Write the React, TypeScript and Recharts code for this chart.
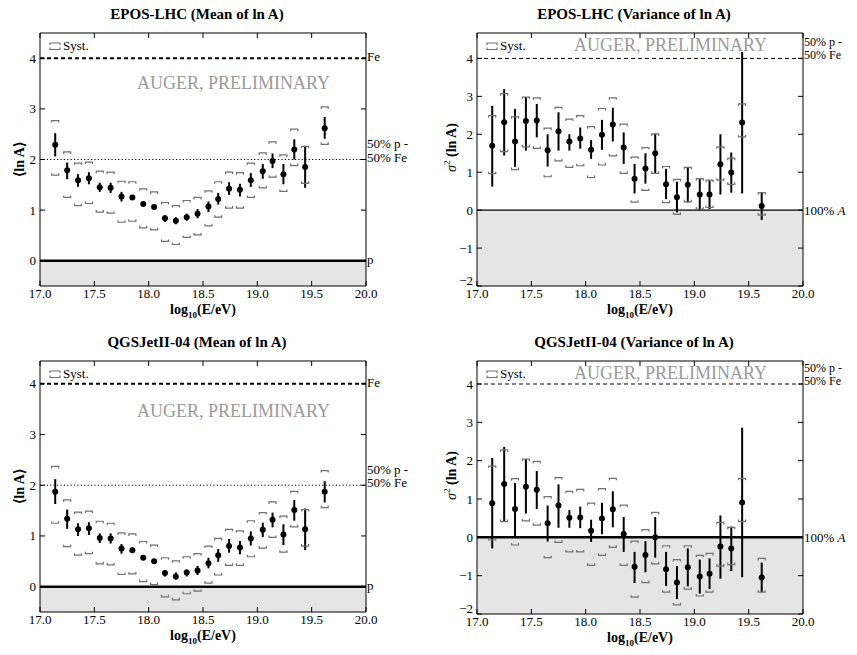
import React from 'react';
import { ComposedChart, XAxis, YAxis, Scatter, ErrorBar, ReferenceLine, ReferenceArea } from 'recharts';

const FONT = "'Liberation Serif', serif";

// log10(E/eV) of each energy bin
const energy = [17.14, 17.25, 17.35, 17.45, 17.55, 17.65, 17.75, 17.85, 17.95, 18.05, 18.15, 18.25, 18.35, 18.45, 18.55, 18.64, 18.74, 18.84, 18.94, 19.05, 19.14, 19.24, 19.34, 19.44, 19.62];

const xTicks = [17.0, 17.5, 18.0, 18.5, 19.0, 19.5, 20.0];
const meanTicks = [0, 1, 2, 3, 4];
const varTicks = [-2, -1, 0, 1, 2, 3, 4];

// EPOS-LHC mean of ln A
const eposMeanVal = [2.29, 1.79, 1.59, 1.63, 1.45, 1.44, 1.27, 1.25, 1.12, 1.06, 0.84, 0.79, 0.86, 0.93, 1.07, 1.22, 1.42, 1.40, 1.59, 1.77, 1.97, 1.71, 2.20, 1.85, 2.62];
const eposMeanStatHi = [2.52, 1.94, 1.71, 1.75, 1.54, 1.54, 1.36, 1.30, 1.16, 1.10, 0.90, 0.86, 0.93, 1.02, 1.17, 1.34, 1.55, 1.52, 1.73, 1.91, 2.12, 1.91, 2.40, 2.27, 2.84];
const eposMeanStatLo = [2.06, 1.61, 1.46, 1.51, 1.36, 1.34, 1.17, 1.20, 1.08, 1.02, 0.77, 0.72, 0.79, 0.84, 0.96, 1.11, 1.30, 1.27, 1.46, 1.62, 1.83, 1.51, 2.00, 1.44, 2.41];
const eposMeanSysHi = [2.77, 2.15, 1.93, 1.95, 1.77, 1.75, 1.57, 1.56, 1.42, 1.36, 1.15, 1.09, 1.19, 1.25, 1.38, 1.56, 1.75, 1.74, 1.93, 2.13, 2.35, 2.09, 2.60, 2.26, 3.04];
const eposMeanSysLo = [1.69, 1.25, 1.09, 1.13, 0.96, 0.94, 0.76, 0.78, 0.65, 0.61, 0.38, 0.32, 0.46, 0.51, 0.69, 0.86, 1.04, 1.04, 1.25, 1.44, 1.65, 1.37, 1.88, 1.53, 2.30];

// EPOS-LHC variance of ln A
const eposVarVal = [1.70, 2.32, 1.81, 2.35, 2.36, 1.58, 2.08, 1.81, 1.89, 1.59, 1.99, 2.26, 1.65, 0.83, 1.10, 1.50, 0.68, 0.34, 0.67, 0.41, 0.41, 1.21, 0.99, 2.31, 0.11];
const eposVarStatHi = [2.75, 3.19, 2.67, 2.98, 2.80, 2.00, 2.58, 2.00, 2.18, 1.85, 2.38, 2.70, 2.05, 1.22, 1.50, 2.01, 1.09, 0.75, 1.13, 0.82, 0.78, 2.00, 1.52, 4.17, 0.46];
const eposVarStatLo = [0.62, 1.44, 1.14, 1.57, 1.92, 1.15, 1.57, 1.57, 1.62, 1.35, 1.59, 1.81, 1.22, 0.44, 0.70, 0.97, 0.29, -0.06, 0.20, 0.00, 0.03, 0.41, 0.46, 0.44, -0.26];
const eposVarSysHi = [2.49, 3.07, 2.46, 2.98, 2.96, 2.16, 2.71, 2.40, 2.49, 2.20, 2.68, 2.96, 2.27, 1.40, 1.65, 2.01, 1.15, 0.81, 1.13, 0.83, 0.79, 1.67, 1.37, 2.80, 0.46];
const eposVarSysLo = [0.96, 1.54, 1.07, 1.67, 1.63, 0.88, 1.30, 1.13, 1.17, 0.86, 1.19, 1.43, 0.97, 0.21, 0.52, 0.97, 0.20, -0.11, 0.22, 0.03, 0.07, 0.79, 0.68, 1.93, -0.13];

// QGSJetII-04 mean of ln A
const qgsMeanVal = [1.87, 1.34, 1.13, 1.15, 0.96, 0.95, 0.75, 0.72, 0.57, 0.50, 0.27, 0.20, 0.28, 0.32, 0.46, 0.62, 0.80, 0.77, 0.95, 1.12, 1.32, 1.03, 1.51, 1.13, 1.87];
const qgsMeanStatHi = [2.12, 1.52, 1.25, 1.27, 1.05, 1.05, 0.84, 0.77, 0.61, 0.54, 0.33, 0.28, 0.34, 0.41, 0.57, 0.74, 0.94, 0.90, 1.09, 1.26, 1.46, 1.23, 1.71, 1.54, 2.08];
const qgsMeanStatLo = [1.63, 1.14, 1.00, 1.02, 0.86, 0.85, 0.65, 0.67, 0.53, 0.46, 0.20, 0.14, 0.20, 0.23, 0.36, 0.49, 0.67, 0.64, 0.81, 0.98, 1.17, 0.82, 1.30, 0.72, 1.66];
const qgsMeanSysHi = [2.37, 1.71, 1.47, 1.49, 1.29, 1.25, 1.06, 1.04, 0.89, 0.82, 0.57, 0.51, 0.59, 0.65, 0.80, 0.95, 1.13, 1.10, 1.30, 1.46, 1.67, 1.39, 1.88, 1.52, 2.29];
const qgsMeanSysLo = [1.25, 0.79, 0.62, 0.65, 0.45, 0.43, 0.24, 0.25, 0.10, 0.04, -0.20, -0.26, -0.14, -0.09, 0.07, 0.23, 0.42, 0.42, 0.59, 0.76, 0.97, 0.68, 1.18, 0.80, 1.56];

// QGSJetII-04 variance of ln A
const qgsVarVal = [0.89, 1.39, 0.74, 1.32, 1.24, 0.37, 0.83, 0.51, 0.52, 0.17, 0.49, 0.73, 0.09, -0.77, -0.46, 0.00, -0.83, -1.18, -0.78, -1.02, -0.95, -0.24, -0.29, 0.91, -1.05];
const qgsVarStatHi = [2.07, 2.36, 1.42, 2.04, 1.73, 0.83, 1.38, 0.71, 0.80, 0.46, 0.90, 1.20, 0.53, -0.38, -0.10, 0.53, -0.38, -0.75, -0.29, -0.58, -0.55, 0.57, 0.28, 2.86, -0.66];
const qgsVarStatLo = [-0.29, 0.41, 0.00, 0.62, 0.74, -0.11, 0.25, 0.25, 0.24, -0.12, 0.08, 0.26, -0.38, -1.19, -0.91, -0.53, -1.27, -1.61, -1.28, -1.47, -1.35, -1.08, -0.88, -1.04, -1.43];
const qgsVarSysHi = [1.86, 2.28, 1.53, 2.04, 1.98, 1.06, 1.56, 1.20, 1.25, 0.89, 1.27, 1.54, 0.84, -0.10, 0.20, 0.65, -0.22, -0.58, -0.22, -0.47, -0.42, 0.39, 0.26, 1.54, -0.55];
const qgsVarSysLo = [-0.07, 0.41, -0.20, 0.43, 0.32, -0.53, -0.13, -0.38, -0.38, -0.73, -0.47, -0.26, -0.73, -1.56, -1.18, -0.69, -1.43, -1.76, -1.35, -1.53, -1.43, -0.75, -0.71, 0.41, -1.43];

const buildRows = (val: number[], hi: number[], lo: number[], sh: number[], sl: number[]) =>
  energy.map((x, i) => ({
    x,
    y: val[i],
    err: [val[i] - lo[i], hi[i] - val[i]],
    sh: sh[i],
    sl: sl[i],
  }));

const SYS_COLOR = '#707070';

const TopBracket = (p: any) => {
  const { cx, cy } = p;
  if (cx == null || cy == null) return null;
  return <path d={`M${cx - 3.5},${cy + 2} L${cx - 3.5},${cy} L${cx + 3.5},${cy} L${cx + 3.5},${cy + 2}`} fill="none" stroke={SYS_COLOR} strokeWidth={1.2} />;
};
const BottomBracket = (p: any) => {
  const { cx, cy } = p;
  if (cx == null || cy == null) return null;
  return <path d={`M${cx - 3.5},${cy - 2} L${cx - 3.5},${cy} L${cx + 3.5},${cy} L${cx + 3.5},${cy - 2}`} fill="none" stroke={SYS_COLOR} strokeWidth={1.2} />;
};
const Dot = (p: any) => {
  const { cx, cy } = p;
  if (cx == null || cy == null) return null;
  return <circle cx={cx} cy={cy} r={3} fill="#000" />;
};

const XTick = (props: any) => {
  const { x, y, payload, plotTop } = props;
  return (
    <g>
      <line x1={x} y1={y} x2={x} y2={y - 5} stroke="#000" strokeWidth={1} />
      <line x1={x} y1={plotTop} x2={x} y2={plotTop + 5} stroke="#000" strokeWidth={1} />
      <text x={x} y={y + 12} textAnchor="middle" fontSize={13} fontFamily={FONT} fill="#000">
        {Number(payload.value).toFixed(1)}
      </text>
    </g>
  );
};

const YTick = (props: any) => {
  const { x, y, payload, plotRight, minTick } = props;
  const v = Number(payload.value);
  const s = v < 0 ? '\u2212' + Math.abs(v) : String(v);
  const lift = v === minTick ? -6 : 0;
  return (
    <g>
      <line x1={x} y1={y} x2={x + 5} y2={y} stroke="#000" strokeWidth={1} />
      <line x1={plotRight} y1={y} x2={plotRight - 5} y2={y} stroke="#000" strokeWidth={1} />
      <text x={x - 4} y={y + 4.5 + lift} textAnchor="end" fontSize={13} fontFamily={FONT} fill="#000">
        {s}
      </text>
    </g>
  );
};

type PanelProps = {
  left: number;
  top: number;
  width: number;
  height: number;
  plot: { l: number; t: number; r: number; b: number };
  kind: 'mean' | 'var';
  title: string;
  domain: [number, number];
  rows: ReturnType<typeof buildRows>;
  zeroWidth: number;
};

const XAXIS_H = 30;

function Panel({ left, top, width, height, plot, kind, title, domain, rows, zeroWidth }: PanelProps) {
  const yAxisW = 40;
  const margin = { top: plot.t, left: plot.l - yAxisW, right: width - plot.r, bottom: height - plot.b - XAXIS_H };
  const ticks = kind === 'mean' ? meanTicks : varTicks;

  const decor = (lp: any) => {
    const vb = lp.viewBox || {};
    const x0 = vb.x, y0 = vb.y, w = vb.width, h = vb.height;
    const cx = x0 + w / 2;
    return (
      <g fontFamily={FONT}>
        <text x={cx - 6} y={y0 - 14.5} textAnchor="middle" fontSize={15} fontWeight="bold" fill="#000" fontFamily={FONT}>{title}</text>
        <text x={cx} y={y0 + h + 28} textAnchor="middle" fontSize={14} fontWeight="bold" fill="#000" fontFamily={FONT}>
          log<tspan fontSize={9} dy={4}>10</tspan><tspan dy={-4}>(E/eV)</tspan>
        </text>
        {kind === 'mean' ? (
          <text transform={`translate(${x0 - 16},${y0 + h / 2}) rotate(-90)`} textAnchor="middle" fontSize={14} fontWeight="bold" fill="#000" fontFamily={FONT}>
            {'\u27E8ln A\u27E9'}
          </text>
        ) : (
          <text transform={`translate(${x0 - 21},${y0 + h / 2 - 12}) rotate(-90)`} textAnchor="middle" fontSize={14} fill="#000" fontFamily={FONT}>
            <tspan fontStyle="italic">{'\u03C3'}</tspan>
            <tspan fontSize={9} dy={-6}>2</tspan>
            <tspan dy={6} fontWeight="bold">{' (ln A)'}</tspan>
          </text>
        )}
        <g stroke={SYS_COLOR} strokeWidth={1.2} fill="none">
          <path d={`M${x0 + 10},${y0 + 12} L${x0 + 10},${y0 + 10} L${x0 + 20},${y0 + 10} L${x0 + 20},${y0 + 12}`} />
          <path d={`M${x0 + 10},${y0 + 14.5} L${x0 + 10},${y0 + 16.5} L${x0 + 20},${y0 + 16.5} L${x0 + 20},${y0 + 14.5}`} />
        </g>
        <text x={x0 + 23} y={y0 + 17} fontSize={13} fill="#000" fontFamily={FONT}>Syst.</text>
        <text x={x0 + 97} y={y0 + (kind === 'mean' ? 55.5 : 18)} fontSize={18} fill="#9a9a9a" fontFamily={FONT}>AUGER, PRELIMINARY</text>
      </g>
    );
  };

  const rightText = (lines: { t: React.ReactNode; dy: number }[], size = 13) => (lp: any) => {
    const vb = lp.viewBox || {};
    const xr = vb.x + vb.width + 1;
    return (
      <g>
        {lines.map((ln, i) => (
          <text key={i} x={xr} y={vb.y + ln.dy} fill="#000" fontSize={size} fontFamily={FONT}>{ln.t}</text>
        ))}
      </g>
    );
  };

  return (
    <div style={{ position: 'absolute', left, top, width, height }}>
      <ComposedChart width={width} height={height} margin={margin}>
        <XAxis
          dataKey="x"
          type="number"
          domain={[17, 20]}
          ticks={xTicks}
          interval={0}
          allowDataOverflow
          height={XAXIS_H}
          axisLine={false}
          tickLine={false}
          tickSize={0}
          tickMargin={0}
          tick={<XTick plotTop={plot.t} />}
        />
        <YAxis
          type="number"
          domain={domain}
          ticks={ticks}
          interval={0}
          allowDataOverflow
          width={yAxisW}
          axisLine={false}
          tickLine={false}
          tickSize={0}
          tickMargin={0}
          tick={<YTick plotRight={plot.r} minTick={kind === 'var' ? -2 : -99} />}
        />
        <ReferenceArea x1={17} x2={20} y1={domain[0]} y2={0} fill="#e5e5e5" fillOpacity={1} stroke="none" />
        {kind === 'mean' ? (
          <>
            <ReferenceLine y={4} stroke="#000" strokeWidth={2} strokeDasharray="4 3" label={rightText([{ t: 'Fe', dy: 3 }])} />
            <ReferenceLine y={2} stroke="#000" strokeWidth={1} strokeDasharray="1.2 2.2" label={rightText([{ t: '50% p -', dy: -11.5 }, { t: '50% Fe', dy: 2 }])} />
            <ReferenceLine y={0} stroke="#000" strokeWidth={zeroWidth} label={rightText([{ t: 'p', dy: 3 }])} />
          </>
        ) : (
          <>
            <ReferenceLine y={4} stroke="#000" strokeWidth={1} strokeDasharray="4 3" label={rightText([{ t: '50% p -', dy: -12 }, { t: '50% Fe', dy: 0.5 }], 12)} />
            <ReferenceLine y={0} stroke="#000" strokeWidth={zeroWidth} label={rightText([{ t: <>100% <tspan fontStyle="italic">A</tspan></>, dy: 4.5 }])} />
          </>
        )}
        <Scatter data={rows} dataKey="sh" shape={TopBracket} isAnimationActive={false} />
        <Scatter data={rows} dataKey="sl" shape={BottomBracket} isAnimationActive={false} />
        <Scatter data={rows} dataKey="y" shape={Dot} isAnimationActive={false}>
          <ErrorBar dataKey="err" direction="y" width={0} stroke="#000" strokeWidth={2} isAnimationActive={false} />
        </Scatter>
        <ReferenceArea x1={17} x2={20} y1={domain[0]} y2={domain[1]} fill="none" fillOpacity={0} stroke="#000" strokeWidth={1} label={decor} />
      </ComposedChart>
    </div>
  );
}

export default function App() {
  return (
    <div style={{ position: 'absolute', left: 0, top: 0, width: 857, height: 655, background: '#fff', fontFamily: FONT }}>
      <Panel
        left={0} top={0} width={428} height={325}
        plot={{ l: 40, t: 33, r: 366, b: 286 }}
        kind="mean" title="EPOS-LHC (Mean of ln  A)" domain={[-0.5, 4.5]}
        rows={buildRows(eposMeanVal, eposMeanStatHi, eposMeanStatLo, eposMeanSysHi, eposMeanSysLo)}
        zeroWidth={2.5}
      />
      <Panel
        left={428} top={0} width={429} height={325}
        plot={{ l: 49, t: 33, r: 375, b: 286 }}
        kind="var" title="EPOS-LHC (Variance of ln  A)" domain={[-2, 4.67]}
        rows={buildRows(eposVarVal, eposVarStatHi, eposVarStatLo, eposVarSysHi, eposVarSysLo)}
        zeroWidth={1.3}
      />
      <Panel
        left={0} top={325} width={428} height={330}
        plot={{ l: 40, t: 36, r: 366, b: 287 }}
        kind="mean" title="QGSJetII-04 (Mean of ln  A)" domain={[-0.5, 4.45]}
        rows={buildRows(qgsMeanVal, qgsMeanStatHi, qgsMeanStatLo, qgsMeanSysHi, qgsMeanSysLo)}
        zeroWidth={2.5}
      />
      <Panel
        left={428} top={325} width={429} height={330}
        plot={{ l: 49, t: 36, r: 375, b: 289 }}
        kind="var" title="QGSJetII-04 (Variance of ln  A)" domain={[-2, 4.6]}
        rows={buildRows(qgsVarVal, qgsVarStatHi, qgsVarStatLo, qgsVarSysHi, qgsVarSysLo)}
        zeroWidth={2.5}
      />
    </div>
  );
}
